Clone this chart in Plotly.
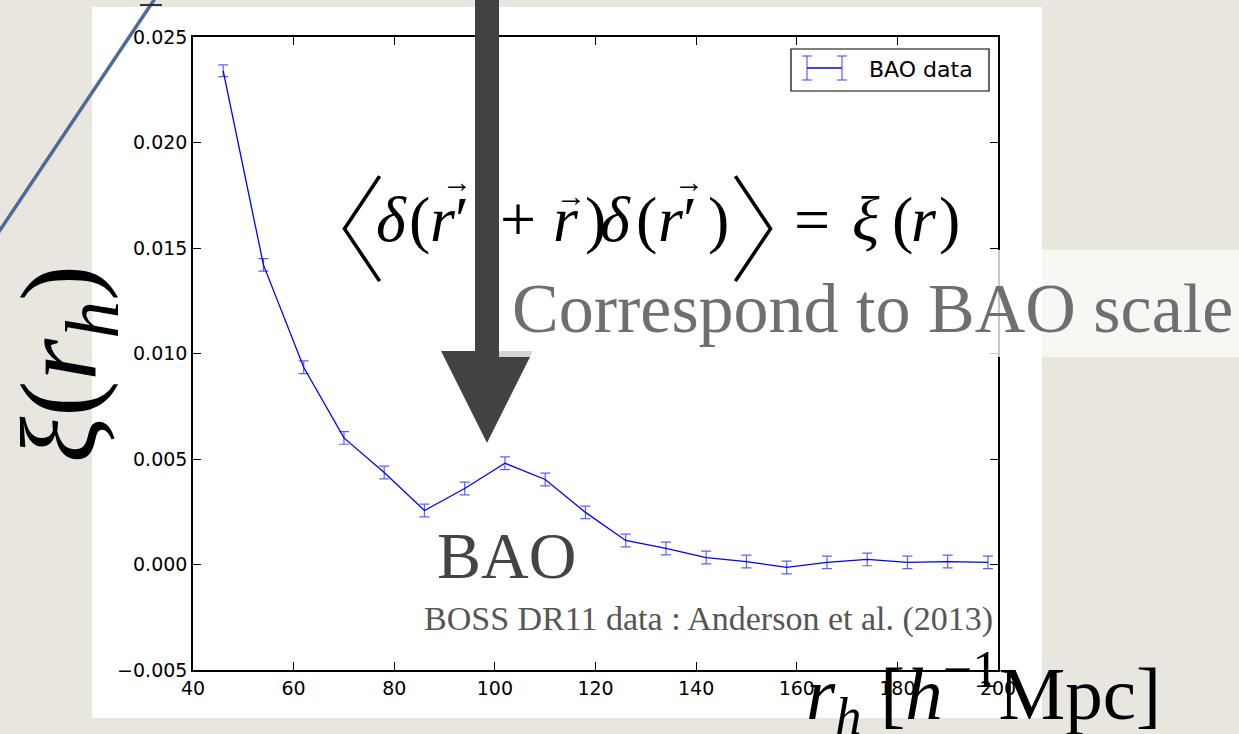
import plotly.graph_objects as go

# ---------------- data ----------------
r_h = [46, 54, 62, 70, 78, 86, 94, 102, 110, 118, 126, 134, 142, 150, 158, 166, 174, 182, 190, 198]
xi = [0.0234, 0.0142, 0.00935, 0.0060, 0.00436, 0.00256, 0.0036, 0.00480, 0.00403, 0.00247,
      0.00114, 0.00076, 0.00033, 0.00014, -0.00014, 0.00010, 0.00024, 0.00010, 0.00014, 0.00010]
xi_err = [0.00028, 0.00030, 0.00030, 0.00030, 0.00030, 0.00030, 0.00030, 0.00030, 0.00030, 0.00030,
          0.00030, 0.00030, 0.00030, 0.00030, 0.00030, 0.00030, 0.00030, 0.00030, 0.00030, 0.00030]
x_ticks = [40, 60, 80, 100, 120, 140, 160, 180, 200]
y_ticks = [-0.005, 0.0, 0.005, 0.010, 0.015, 0.020, 0.025]
y_ticklabels = ["\u22120.005", "0.000", "0.005", "0.010", "0.015", "0.020", "0.025"]

W, H = 1239, 734
L, R, T, B = 193, 998, 37, 670


def px(x):
    return (x - L) / (R - L)


def py(y):
    return (B - y) / (B - T)


fig = go.Figure()
fig.add_trace(go.Scatter(
    x=r_h, y=xi, mode="lines",
    line=dict(color="#0000ff", width=1.3),
    error_y=dict(type="data", array=xi_err, visible=True,
                 color="rgba(40,40,255,0.75)", thickness=1.2, width=5),
    showlegend=False,
))

shapes = []
shapes.append(dict(type="rect", xref="paper", yref="paper", layer="below",
                   x0=px(92), x1=px(1042), y0=py(718), y1=py(7),
                   fillcolor="white", line=dict(width=0)))
shapes.append(dict(type="line", xref="paper", yref="paper", layer="above",
                   x0=px(-4), y0=py(236), x1=px(158), y1=py(-6),
                   line=dict(color="#4d6a98", width=3.5)))
shapes.append(dict(type="line", xref="paper", yref="paper", layer="above",
                   x0=px(140), y0=py(5), x1=px(162), y1=py(5),
                   line=dict(color="#333333", width=2)))
shapes.append(dict(type="rect", xref="paper", yref="paper", layer="above",
                   x0=px(475), x1=px(499), y0=py(353), y1=py(-2),
                   fillcolor="#424242", line=dict(width=0)))
shapes.append(dict(type="path", xref="paper", yref="paper", layer="above",
                   path="M {} {} L {} {} L {} {} Z".format(px(441), py(351), px(533), py(351), px(487), py(443)),
                   fillcolor="#424242", line=dict(width=0)))
# translucent band behind "Correspond to BAO scale"
shapes.append(dict(type="rect", xref="paper", yref="paper", layer="above",
                   x0=px(499), x1=px(1042), y0=py(357), y1=py(250),
                   fillcolor="rgba(255,255,255,0.78)", line=dict(width=0)))
shapes.append(dict(type="rect", xref="paper", yref="paper", layer="above",
                   x0=px(1042), x1=px(1239), y0=py(357), y1=py(250),
                   fillcolor="rgba(252,251,249,0.8)", line=dict(width=0)))
# manual legend
shapes.append(dict(type="rect", xref="paper", yref="paper", layer="above",
                   x0=px(791), x1=px(989), y0=py(91), y1=py(49),
                   fillcolor="white", line=dict(color="black", width=1.2)))
shapes.append(dict(type="line", xref="paper", yref="paper", layer="above",
                   x0=px(807), x1=px(842), y0=py(68), y1=py(68),
                   line=dict(color="#0000ff", width=1.3)))
for cx in (807, 842):
    shapes.append(dict(type="line", xref="paper", yref="paper", layer="above",
                       x0=px(cx), x1=px(cx), y0=py(56), y1=py(80),
                       line=dict(color="rgba(40,40,255,0.75)", width=1.2)))
    for cy in (56, 80):
        shapes.append(dict(type="line", xref="paper", yref="paper", layer="above",
                           x0=px(cx - 5), x1=px(cx + 5), y0=py(cy), y1=py(cy),
                           line=dict(color="rgba(40,40,255,0.75)", width=1.2)))

serif = "Liberation Serif, DejaVu Serif, serif"
cjk = "Noto Sans CJK JP, DejaVu Sans"
ann = []


def add_text(x, y, text, size, color="black", family=serif, xanchor="left", angle=0, weight=None):
    font = dict(family=family, size=size, color=color)
    if weight is not None:
        font["weight"] = weight
    ann.append(dict(x=px(x), y=py(y), xref="paper", yref="paper", xanchor=xanchor, yanchor="middle",
                    text=text, showarrow=False, textangle=angle, font=font))


add_text(867, 69, "BAO data", 22, family="DejaVu Sans")

# equation  <delta(r' + r) delta(r')> = xi(r), glyph by glyph (split by the arrow shaft)
EQ = 64
EY = 219
add_text(329, 222, "\u3008", 116, family=cjk, xanchor="center", weight=100)
add_text(374, EY, "<i>\u03b4</i>", EQ)
add_text(407, EY, "(", EQ)
add_text(428, EY, "<i>r</i>\u2032", EQ)
add_text(518, EY, "+", EQ, xanchor="center")
add_text(551, EY, "<i>r</i>", EQ)
add_text(583, EY, ")", EQ)
add_text(598, EY, "<i>\u03b4</i>", EQ)
add_text(634, EY, "(", EQ)
add_text(656, EY, "<i>r</i>\u2032", EQ)
add_text(706, EY, ")", EQ)
add_text(786, 222, "\u3009", 116, family=cjk, xanchor="center", weight=100)
add_text(812, EY, "=", EQ, xanchor="center")
add_text(850, EY, "<i>\u03be</i>", EQ)
add_text(890, EY, "(", EQ)
add_text(909, EY, "<i>r</i>", EQ)
add_text(937, EY, ")", EQ)
# vector arrows above r
add_text(457, 181, "\u2192", 30, xanchor="center")
add_text(571, 195, "\u2192", 30, xanchor="center")
add_text(689, 181, "\u2192", 30, xanchor="center")

add_text(510, 308, "Correspond to BAO scale", 70, color="#6f6f6f")
add_text(506, 555, "BAO", 66, color="#444444", xanchor="center")
add_text(995, 619, "BOSS DR11 data : Anderson et al. (2013)", 34, color="#555555", xanchor="right")
add_text(66, 364, "<i>\u03be</i>(<i>r</i><sub><i>h</i></sub>)", 108, xanchor="center", angle=-90)
add_text(983, 692, "<i>r</i><sub><i>h</i></sub> [<i>h</i><sup>\u22121</sup>Mpc]", 75, xanchor="center")

fig.update_layout(
    width=W, height=H,
    margin=dict(l=L, r=W - R, t=T, b=H - B, pad=0),
    paper_bgcolor="#e9e6e0",
    plot_bgcolor="white",
    shapes=shapes,
    annotations=ann,
    showlegend=False,
    font=dict(family="DejaVu Sans", size=19, color="black"),
)
axis_style = dict(ticks="inside", ticklen=8, tickwidth=1, tickcolor="black", showline=True,
                  linecolor="black", linewidth=1.5, mirror="allticks", showgrid=False, zeroline=False,
                  tickfont=dict(family="DejaVu Sans", size=19, color="black"))
fig.update_xaxes(range=[40, 200], tickvals=x_ticks, **axis_style)
fig.update_yaxes(range=[-0.005, 0.025], tickvals=y_ticks, ticktext=y_ticklabels, **axis_style)

fig.write_html("out.html")
